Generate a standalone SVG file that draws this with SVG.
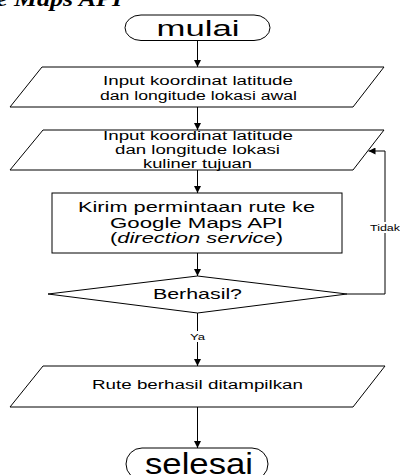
<svg xmlns="http://www.w3.org/2000/svg" width="400" height="475" viewBox="0 0 400 475">
<defs>
<marker id="arr" viewBox="0 0 10 10" refX="10" refY="5" markerWidth="7" markerHeight="7" markerUnits="userSpaceOnUse" orient="auto">
<path d="M0,0 L10,5 L0,10 z" fill="#000"/>
</marker>
<style>
.s{fill:#fff;stroke:#000;stroke-width:1}
.c{fill:none;stroke:#000;stroke-width:1;marker-end:url(#arr)}
text{font-family:"Liberation Sans",Arial,sans-serif;fill:#000;text-anchor:middle}
.t12{font-size:12.5px}
.t15{font-size:14px}
.t8{font-size:8.5px}
.title{font-family:"Liberation Serif","Times New Roman",serif;font-weight:bold;font-style:italic;font-size:22px;text-anchor:start}
</style>
</defs>
<rect width="400" height="475" fill="#fff"/>
<text class="title" x="-4" y="6" textLength="126" lengthAdjust="spacingAndGlyphs">e Maps API</text>

<g id="connectors">
<line class="c" x1="197.5" y1="40" x2="197.5" y2="67"/>
<line class="c" x1="197.5" y1="107" x2="197.5" y2="130"/>
<line class="c" x1="197.5" y1="170" x2="197.5" y2="193"/>
<line class="c" x1="197.5" y1="253" x2="197.5" y2="276"/>
<line class="c" x1="197.5" y1="313" x2="197.5" y2="366"/>
<line class="c" x1="197.5" y1="407" x2="197.5" y2="448"/>
<polyline class="c" points="347,294 385,294 385,151 368.5,151"/>
<rect x="369" y="222" width="31" height="11" fill="#fff"/>
<text class="t8" x="385" y="231" textLength="30" lengthAdjust="spacingAndGlyphs">Tidak</text>
<rect x="188" y="331" width="18" height="11" fill="#fff"/>
<text class="t8" x="197.5" y="339.5" textLength="15" lengthAdjust="spacingAndGlyphs">Ya</text>
</g>

<g id="mulai">
<rect class="s" x="125" y="15" width="145" height="25.5" rx="16" ry="12.75"/>
<text x="198" y="36" style="font-size:22px" textLength="83" lengthAdjust="spacingAndGlyphs">mulai</text>
</g>

<g id="input-awal">
<polygon class="s" points="42,67 384,67 353,107 10,107"/>
<text class="t12" x="198" y="85" textLength="190" lengthAdjust="spacingAndGlyphs">Input koordinat latitude</text>
<text class="t12" x="198.5" y="100" textLength="197" lengthAdjust="spacingAndGlyphs">dan longitude lokasi awal</text>
</g>

<g id="input-tujuan">
<polygon class="s" points="43,130 384,130 353,170 10,170"/>
<text class="t12" x="198" y="140" textLength="190" lengthAdjust="spacingAndGlyphs">Input koordinat latitude</text>
<text class="t12" x="197.5" y="154" textLength="165" lengthAdjust="spacingAndGlyphs">dan longitude lokasi</text>
<text class="t12" x="197.5" y="168" textLength="109" lengthAdjust="spacingAndGlyphs">kuliner tujuan</text>
</g>

<g id="kirim">
<rect class="s" x="52" y="193" width="290" height="60"/>
<text class="t15" x="196.5" y="212" textLength="237" lengthAdjust="spacingAndGlyphs">Kirim permintaan rute ke</text>
<text class="t15" x="196.5" y="227.5" textLength="173" lengthAdjust="spacingAndGlyphs">Google Maps API</text>
<text class="t15" x="196.5" y="243" textLength="173" lengthAdjust="spacingAndGlyphs">(<tspan font-style="italic">direction service</tspan>)</text>
</g>

<g id="berhasil">
<polygon class="s" points="48,294 197.5,276 347,294 197.5,313"/>
<text style="font-size:14.5px" x="197.5" y="298.5" textLength="89" lengthAdjust="spacingAndGlyphs">Berhasil?</text>
</g>

<g id="tampil">
<polygon class="s" points="43,366 385,366 353,407 10,407"/>
<text class="t12" x="197.5" y="389" textLength="211" lengthAdjust="spacingAndGlyphs">Rute berhasil ditampilkan</text>
</g>

<g id="selesai">
<rect class="s" x="126" y="448" width="142" height="32" rx="16" ry="16"/>
<text style="font-size:30px" x="199" y="474" textLength="108" lengthAdjust="spacingAndGlyphs">selesai</text>
</g>
</svg>
